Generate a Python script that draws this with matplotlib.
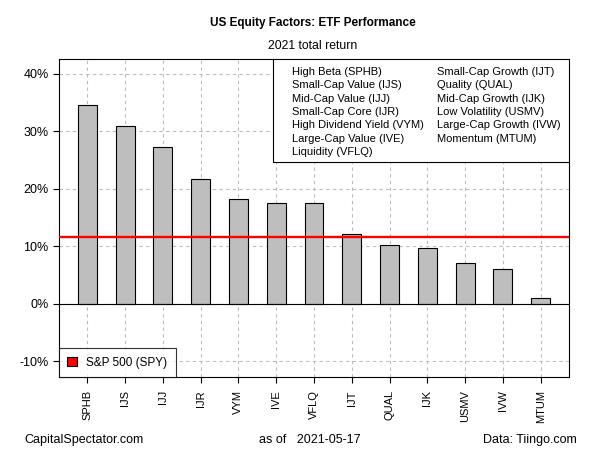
import numpy as np
import matplotlib.pyplot as plt
from matplotlib.patches import Patch, Rectangle

plt.rcParams['font.family'] = ['Liberation Sans', 'DejaVu Sans']

# data
tickers = ['SPHB', 'IJS', 'IJJ', 'IJR', 'VYM', 'IVE', 'VFLQ',
           'IJT', 'QUAL', 'IJK', 'USMV', 'IVW', 'MTUM']
names = ['High Beta', 'Small-Cap Value', 'Mid-Cap Value', 'Small-Cap Core',
         'High Dividend Yield', 'Large-Cap Value', 'Liquidity',
         'Small-Cap Growth', 'Quality', 'Mid-Cap Growth', 'Low Volatility',
         'Large-Cap Growth', 'Momentum']
returns = [34.6, 30.9, 27.3, 21.7, 18.2, 17.5, 17.5,
           12.1, 10.2, 9.7, 7.1, 6.0, 1.0]
spy_return = 11.65
yticks = [-10, 0, 10, 20, 30, 40]

# plot area in pixels (left, right, top, bottom)
L, R, T, B = 59, 569, 59, 377
W, H = R - L, B - T

fig = plt.figure(figsize=(6, 4.5), dpi=100)
ax = fig.add_axes([L/600, 1 - B/450, W/600, H/450])

def axpos(px, py):
    return (px - L) / W, (B - py) / H

x = np.arange(len(tickers))
ax.set_xlim(-0.75, len(tickers) - 0.25)
ax.set_ylim(-12.7, 42.6)

for yt in yticks:
    ax.axhline(yt, color='#bdbdbd', lw=0.8, ls=(0, (3, 3)), zorder=0)
for xi in x:
    ax.axvline(xi, color='#bdbdbd', lw=0.8, ls=(0, (3, 3)), zorder=0)

ax.bar(x, returns, width=0.5, color='#bebebe', edgecolor='black', lw=0.8, zorder=2)
ax.axhline(0, color='black', lw=0.8, zorder=3)
ax.axhline(spy_return, color='red', lw=1.7, zorder=4)

ax.set_yticks(yticks)
ax.set_yticklabels([f'{v}%' for v in yticks], fontsize=9)
ax.set_xticks(x)
ax.set_xticklabels(tickers, rotation=90, fontsize=8, va='top')
ax.tick_params(axis='both', length=4.5, width=0.8, color='black', pad=3)
ax.tick_params(axis='x', pad=5)
for s in ax.spines.values():
    s.set_linewidth(0.8)

# factor legend (top right), drawn as a box with two columns of text
labels = [f'{n} ({t})' for n, t in zip(names, tickers)]
bx, by = axpos(272.5, 162)
ax.add_patch(Rectangle((bx, by), 1 - bx, 1 - by, transform=ax.transAxes,
                       facecolor='white', edgecolor='black', lw=0.8, zorder=5))
col_x = [291.5, 437]
for i, lab in enumerate(labels):
    col, row = divmod(i, 7)
    tx, ty = axpos(col_x[col], 72 + 13.33 * row)
    ax.text(tx, ty, lab, transform=ax.transAxes, fontsize=8,
            ha='left', va='center', zorder=6)

# SPY legend (bottom left)
leg2 = ax.legend([Patch(facecolor='red', edgecolor='black', lw=0.8)], ['S&P 500 (SPY)'],
                 loc='lower left', fontsize=8.5, frameon=True, fancybox=False,
                 handlelength=0.8, handleheight=0.8, borderpad=0.7,
                 borderaxespad=0, handletextpad=0.8)
leg2.get_frame().set_edgecolor('black')
leg2.get_frame().set_linewidth(0.8)
leg2.set_zorder(6)

fig.text(313/600, 1 - 23/450, 'US Equity Factors: ETF Performance',
         ha='center', va='center', fontsize=8.5, fontweight='bold')
fig.text(313/600, 1 - 46/450, '2021 total return', ha='center', va='center', fontsize=8.8)
fig.text(24/600, 1 - 440/450, 'CapitalSpectator.com', ha='left', va='center', fontsize=9)
fig.text(310/600, 1 - 440/450, 'as of   2021-05-17', ha='center', va='center', fontsize=9)
fig.text(577/600, 1 - 440/450, 'Data: Tiingo.com', ha='right', va='center', fontsize=9)

fig.savefig('out.png', dpi=100)
